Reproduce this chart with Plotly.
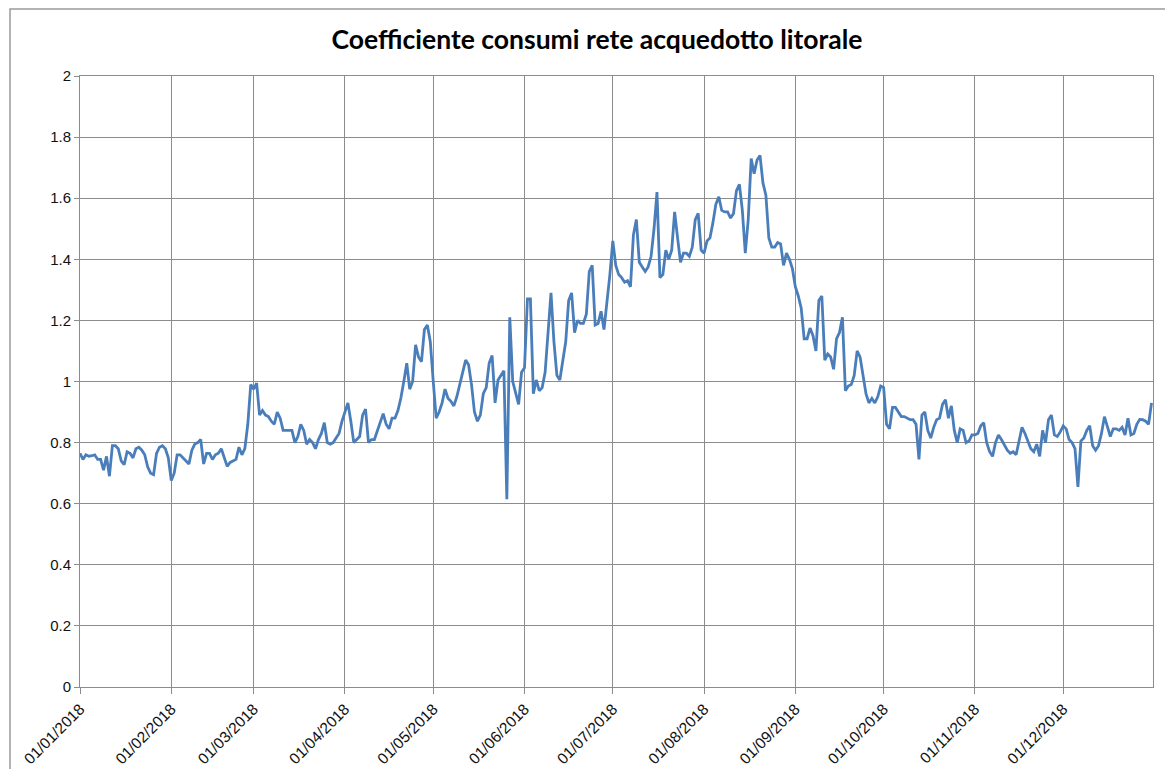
import pandas as pd
import plotly.graph_objects as go

# Daily coefficient values, 2018 (one list per month)
jan = [0.765, 0.745, 0.76, 0.755, 0.757, 0.76, 0.745, 0.745, 0.71, 0.755, 0.69, 0.79, 0.79, 0.78, 0.74, 0.728,
       0.77, 0.765, 0.75, 0.78, 0.785, 0.775, 0.76, 0.72, 0.70, 0.695, 0.765, 0.785, 0.79, 0.78, 0.75]
feb = [0.676, 0.70, 0.76, 0.76, 0.75, 0.74, 0.73, 0.775, 0.795, 0.80, 0.81, 0.73, 0.765, 0.765, 0.745, 0.76,
       0.765, 0.78, 0.75, 0.722, 0.735, 0.74, 0.745, 0.785, 0.76, 0.78, 0.86, 0.99]
mar = [0.975, 0.995, 0.89, 0.905, 0.89, 0.885, 0.87, 0.86, 0.90, 0.88, 0.84, 0.84, 0.84, 0.84, 0.80, 0.82,
       0.86, 0.84, 0.795, 0.81, 0.80, 0.78, 0.81, 0.83, 0.865, 0.80, 0.795, 0.80, 0.815, 0.83, 0.87]
apr = [0.90, 0.93, 0.87, 0.80, 0.81, 0.82, 0.89, 0.91, 0.80, 0.81, 0.81, 0.84, 0.87, 0.895, 0.86, 0.845,
       0.88, 0.88, 0.905, 0.946, 1.00, 1.06, 0.975, 1.0, 1.12, 1.08, 1.065, 1.17, 1.185, 1.13]
may = [1.00, 0.88, 0.90, 0.93, 0.975, 0.945, 0.935, 0.92, 0.95, 0.99, 1.03, 1.07, 1.055, 0.99, 0.90, 0.87,
       0.89, 0.96, 0.98, 1.06, 1.085, 0.93, 1.005, 1.02, 1.035, 0.615, 1.21, 1.00, 0.96, 0.925, 1.03]
jun = [1.045, 1.27, 1.27, 0.96, 1.005, 0.97, 0.98, 1.03, 1.15, 1.29, 1.13, 1.02, 1.005, 1.07, 1.13, 1.265,
       1.29, 1.16, 1.20, 1.19, 1.19, 1.22, 1.36, 1.38, 1.185, 1.19, 1.23, 1.17, 1.25, 1.35]
jul = [1.46, 1.38, 1.35, 1.34, 1.325, 1.33, 1.31, 1.48, 1.53, 1.39, 1.375, 1.36, 1.375, 1.41, 1.50, 1.62,
       1.34, 1.35, 1.43, 1.40, 1.43, 1.555, 1.47, 1.39, 1.42, 1.42, 1.41, 1.44, 1.53, 1.55, 1.43]
aug = [1.42, 1.46, 1.47, 1.52, 1.58, 1.605, 1.56, 1.555, 1.555, 1.535, 1.55, 1.625, 1.645, 1.56, 1.42, 1.53,
       1.73, 1.68, 1.725, 1.74, 1.65, 1.61, 1.47, 1.44, 1.44, 1.455, 1.45, 1.38, 1.42, 1.40, 1.37]
sep = [1.31, 1.28, 1.24, 1.14, 1.14, 1.175, 1.15, 1.10, 1.265, 1.28, 1.07, 1.09, 1.08, 1.04, 1.14, 1.16,
       1.21, 0.97, 0.985, 0.99, 1.02, 1.10, 1.08, 1.02, 0.96, 0.93, 0.945, 0.93, 0.95, 0.985]
oct_ = [0.98, 0.86, 0.845, 0.915, 0.915, 0.90, 0.885, 0.885, 0.88, 0.875, 0.875, 0.86, 0.745, 0.89, 0.90, 0.84,
        0.815, 0.85, 0.875, 0.88, 0.925, 0.94, 0.88, 0.92, 0.84, 0.80, 0.845, 0.84, 0.80, 0.805, 0.825]
nov = [0.825, 0.83, 0.855, 0.865, 0.80, 0.77, 0.755, 0.80, 0.825, 0.81, 0.79, 0.775, 0.765, 0.77, 0.76, 0.80,
       0.85, 0.83, 0.805, 0.78, 0.77, 0.795, 0.755, 0.84, 0.80, 0.875, 0.89, 0.825, 0.82, 0.835]
dec = [0.855, 0.845, 0.81, 0.80, 0.78, 0.655, 0.805, 0.815, 0.84, 0.855, 0.79, 0.775, 0.79, 0.83, 0.885, 0.85,
       0.82, 0.845, 0.845, 0.84, 0.85, 0.825, 0.88, 0.825, 0.83, 0.86, 0.876, 0.875, 0.87, 0.86, 0.93]

values = jan + feb + mar + apr + may + jun + jul + aug + sep + oct_ + nov + dec
dates = pd.date_range("2018-01-01", periods=len(values), freq="D")

tick_dates = pd.date_range("2018-01-01", "2018-12-01", freq="MS")
tick_labels = [d.strftime("%d/%m/%Y") for d in tick_dates]

title_text = "Coefficiente consumi rete acquedotto litorale"

grid = "#8c8c8c"
W, H = 1165, 761
L, R, T, B = 72, 20, 68, 82
PW, PH = W - L - R, H - T - B

fig = go.Figure()
fig.add_trace(go.Scatter(
    x=dates, y=values, mode="lines",
    line=dict(color="#4A7EBB", width=2.8),
    showlegend=False,
))

fig.update_layout(
    width=W, height=H,
    paper_bgcolor="white", plot_bgcolor="white",
    margin=dict(l=L, r=R, t=T, b=B, autoexpand=False),
    title=dict(text="<b>" + title_text + "</b>", x=589 / W, xanchor="center", y=1 - 32 / H, yanchor="middle",
               font=dict(family="Lato", size=26.5, color="black")),
    font=dict(family="Liberation Sans", size=14, color="#111111"),
)

fig.update_xaxes(
    type="date",
    range=[pd.Timestamp("2018-01-01"), pd.Timestamp("2018-12-31 12:00")],
    tickvals=tick_dates, ticktext=tick_labels, tickangle=-45,
    showgrid=True, gridcolor=grid, gridwidth=1,
    showline=True, linecolor=grid, linewidth=1, mirror=True,
    ticks="outside", ticklen=6, tickcolor=grid,
    tickfont=dict(family="Liberation Sans", size=15.5, color="#111111"),
    zeroline=False, automargin=False,
)
fig.update_yaxes(
    range=[0, 2], dtick=0.2, tick0=0,
    showgrid=True, gridcolor=grid, gridwidth=1,
    showline=True, linecolor=grid, linewidth=1, mirror=True,
    ticks="outside", ticklen=5, tickcolor=grid,
    tickfont=dict(family="Liberation Sans", size=15, color="#111111"),
    zeroline=False, automargin=False,
)

# outer chart border (Excel chart area)
fig.add_shape(type="rect", xref="paper", yref="paper",
              x0=-(L - 2) / PW, x1=1 + (R + 20) / PW, y0=-(B + 20) / PH, y1=1 + (T - 1) / PH,
              line=dict(color="#9a9a9a", width=1.5), layer="below")

fig.write_html("out.html")
